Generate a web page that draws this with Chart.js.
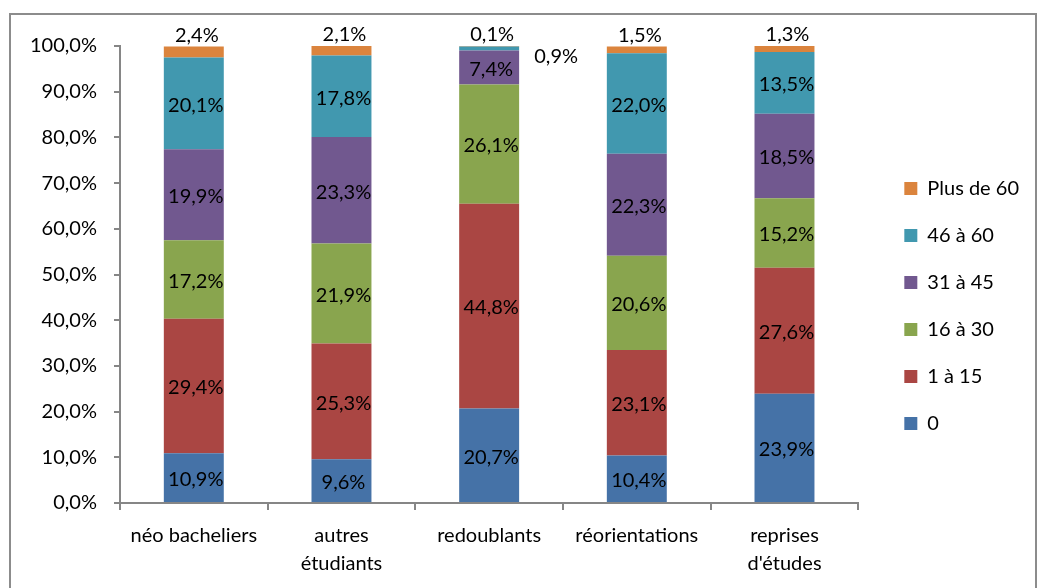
<!DOCTYPE html>
<html>
<head>
<meta charset="utf-8">
<script src="https://cdn.jsdelivr.net/npm/chart.js@4/dist/chart.umd.min.js"></script>
<style>
  html, body { margin: 0; padding: 0; background: #fff; }
  #wrap { width: 1039px; height: 588px; position: relative; }
</style>
</head>
<body>
<div id="wrap"><canvas id="tempsChart" width="1039" height="588"></canvas></div>
<script>
// categories and series (percentages)
const categories = ['néo bacheliers', ['autres', 'étudiants'], 'redoublants', 'réorientations', ['reprises', "d'études"]];

const serie0 = [10.9, 9.6, 20.7, 10.4, 23.9];
const serie1a15 = [29.4, 25.3, 44.8, 23.1, 27.6];
const serie16a30 = [17.2, 21.9, 26.1, 20.6, 15.2];
const serie31a45 = [19.9, 23.3, 7.4, 22.3, 18.5];
const serie46a60 = [20.1, 17.8, 0.9, 22.0, 13.5];
const seriePlus60 = [2.4, 2.1, 0.1, 1.5, 1.3];

const seriesNames = ['0', '1 à 15', '16 à 30', '31 à 45', '46 à 60', 'Plus de 60'];
const seriesColors = ['#4572A7', '#AA4643', '#89A54E', '#71588F', '#4198AF', '#DB843D'];

const FONT = 'Lato, "Open Sans", sans-serif';

// french number format
function fmt(v) {
    return v.toFixed(1).replace('.', ',') + '%';
}

// drawing the grey frame around the whole chart
const framePlugin = {
    id: 'frame',
    beforeDraw(chart) {
        const ctx = chart.ctx;
        ctx.save();
        ctx.fillStyle = '#fff';
        ctx.fillRect(0, 0, chart.width, chart.height);
        ctx.strokeStyle = '#8c8c8c';
        ctx.lineWidth = 2;
        ctx.strokeRect(10, 14, 1026, 600);
        ctx.restore();
    }
};

// pushing the legend away from the plot and a little up
const legendShift = {
    id: 'legendShift',
    afterLayout(chart) {
        if (chart.legend) {
            chart.legend.left += 19;
            chart.legend.right += 19;
            chart.legend.top -= 12;
            chart.legend.bottom -= 12;
        }
    }
};

// writing the value labels on each segment
const valueLabels = {
    id: 'valueLabels',
    afterDatasetsDraw(chart) {
        const ctx = chart.ctx;
        const last = chart.data.datasets.length - 1;
        ctx.save();
        ctx.font = '20px ' + FONT;
        ctx.fillStyle = '#000';
        ctx.textAlign = 'center';
        chart.data.datasets.forEach((ds, i) => {
            const meta = chart.getDatasetMeta(i);
            meta.data.forEach((bar, j) => {
                const v = ds.data[j];
                const h = Math.abs(bar.base - bar.y);
                if (i === last) {
                    ctx.textBaseline = 'bottom';
                    ctx.fillText(fmt(v), bar.x + 3, bar.y - 1);
                } else if (h < 12) {
                    ctx.textBaseline = 'middle';
                    ctx.fillText(fmt(v), bar.x + 67, bar.y + 10);
                } else {
                    ctx.textBaseline = 'middle';
                    ctx.fillText(fmt(v), bar.x + 2, (bar.y + bar.base) / 2 + 2);
                }
            });
        });
        ctx.restore();
    }
};

const allSeries = [serie0, serie1a15, serie16a30, serie31a45, serie46a60, seriePlus60];

const ctx = document.getElementById('tempsChart').getContext('2d');
const tempsChart = new Chart(ctx, {
    type: 'bar',
    data: {
        labels: categories,
        datasets: allSeries.map((d, i) => ({
            label: seriesNames[i],
            data: d,
            backgroundColor: seriesColors[i],
            borderWidth: 0,
            categoryPercentage: 1,
            barPercentage: 0.406
        }))
    },
    options: {
        responsive: false,
        animation: false,
        layout: { padding: { left: 13, top: 46, right: 29, bottom: -2 } },
        plugins: {
            legend: {
                position: 'right',
                reverse: true,
                labels: {
                    boxWidth: 13,
                    boxHeight: 13,
                    padding: 27,
                    color: '#000',
                    font: { family: FONT, size: 20 }
                }
            },
            tooltip: { enabled: false }
        },
        scales: {
            x: {
                stacked: true,
                grid: { display: true, drawOnChartArea: false, color: '#868686', tickLength: 7, lineWidth: 2 },
                border: { color: '#868686', width: 2 },
                ticks: { color: '#000', font: { family: FONT, size: 20, lineHeight: 1.4 }, maxRotation: 0, padding: 12 }
            },
            y: {
                stacked: true,
                min: 0,
                max: 100,
                grid: { display: true, drawOnChartArea: false, color: '#868686', tickLength: 6, lineWidth: 2 },
                border: { color: '#868686', width: 2 },
                ticks: {
                    stepSize: 10,
                    color: '#000',
                    padding: 17,
                    font: { family: FONT, size: 20 },
                    callback: v => fmt(v)
                }
            }
        }
    },
    plugins: [framePlugin, legendShift, valueLabels]
});
</script>
</body>
</html>
